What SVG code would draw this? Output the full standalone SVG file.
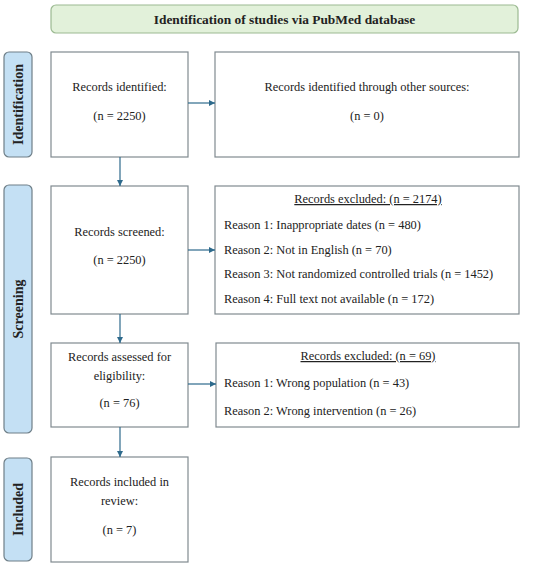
<svg xmlns="http://www.w3.org/2000/svg" width="550" height="566" viewBox="0 0 550 566">
<style>
.box{fill:#fff;stroke:#808a90;stroke-width:1.2}
.side{fill:#c4e0f4;stroke:#6f7f88;stroke-width:1.2}
.title{fill:#e2f1da;stroke:#9cba92;stroke-width:1.2}
text{font-family:"Liberation Serif","Times New Roman",serif;font-size:12.4px;fill:#222}
.c{text-anchor:middle}
.t{font-weight:bold;font-size:13.4px}
.s{font-weight:bold;font-size:14px}
.con{stroke:#2e6a8c;stroke-width:1.2;fill:none;marker-end:url(#ah)}
</style>
<defs>
<marker id="ah" viewBox="0 0 8 8" refX="8" refY="4" markerWidth="6" markerHeight="6" markerUnits="userSpaceOnUse" orient="auto">
<path d="M0,0 L8,4 L0,8 z" fill="#2e6a8c"/>
</marker>
</defs>
<rect width="550" height="566" fill="#fff"/>
<g id="title">
<rect class="title" x="51" y="5" width="467" height="28" rx="5"/>
<text class="c t" x="284.5" y="24">Identification of studies via PubMed database</text>
</g>
<g id="side-identification">
<rect class="side" x="4" y="52" width="28" height="105" rx="5"/>
<text class="c s" transform="translate(23,104.5) rotate(-90)">Identification</text>
</g>
<g id="side-screening">
<rect class="side" x="4" y="185" width="28" height="248" rx="5"/>
<text class="c s" transform="translate(23,309) rotate(-90)">Screening</text>
</g>
<g id="side-included">
<rect class="side" x="4" y="458" width="28" height="103" rx="5"/>
<text class="c s" transform="translate(23,509.5) rotate(-90)">Included</text>
</g>
<g id="identified">
<rect class="box" x="51" y="52" width="137" height="105"/>
<text class="c" x="119.5" y="91">Records identified:</text>
<text class="c" x="119.5" y="120">(n = 2250)</text>
</g>
<g id="other-sources">
<rect class="box" x="215" y="52" width="304" height="105"/>
<text class="c" x="367" y="91">Records identified through other sources:</text>
<text class="c" x="367" y="120">(n = 0)</text>
</g>
<g id="screened">
<rect class="box" x="51" y="186" width="137" height="128"/>
<text class="c" x="119.5" y="236">Records screened:</text>
<text class="c" x="119.5" y="264">(n = 2250)</text>
</g>
<g id="excluded1">
<rect class="box" x="215" y="186" width="304" height="128"/>
<text class="c" x="368" y="203" text-decoration="underline">Records excluded: (n = 2174)</text>
<text x="224" y="229">Reason 1: Inappropriate dates (n = 480)</text>
<text x="224" y="254">Reason 2: Not in English (n = 70)</text>
<text x="224" y="278">Reason 3: Not randomized controlled trials (n = 1452)</text>
<text x="224" y="303">Reason 4: Full text not available (n = 172)</text>
</g>
<g id="eligibility">
<rect class="box" x="51" y="343" width="137" height="84"/>
<text class="c" x="119.5" y="361">Records assessed for</text>
<text class="c" x="119.5" y="380">eligibility:</text>
<text class="c" x="119.5" y="407">(n = 76)</text>
</g>
<g id="excluded2">
<rect class="box" x="216" y="343" width="303" height="84"/>
<text class="c" x="368" y="360" text-decoration="underline">Records excluded: (n = 69)</text>
<text x="224" y="387">Reason 1: Wrong population (n = 43)</text>
<text x="224" y="415">Reason 2: Wrong intervention (n = 26)</text>
</g>
<g id="included">
<rect class="box" x="51" y="457" width="137" height="105"/>
<text class="c" x="119.5" y="486">Records included in</text>
<text class="c" x="119.5" y="505">review:</text>
<text class="c" x="119.5" y="534">(n = 7)</text>
</g>
<g id="connectors">
<line class="con" x1="188" y1="103" x2="215" y2="103"/>
<line class="con" x1="120" y1="157" x2="120" y2="186"/>
<line class="con" x1="188" y1="250" x2="215" y2="250"/>
<line class="con" x1="120" y1="314" x2="120" y2="343"/>
<line class="con" x1="188" y1="384" x2="216" y2="384"/>
<line class="con" x1="120" y1="427" x2="120" y2="457"/>
</g>
</svg>
